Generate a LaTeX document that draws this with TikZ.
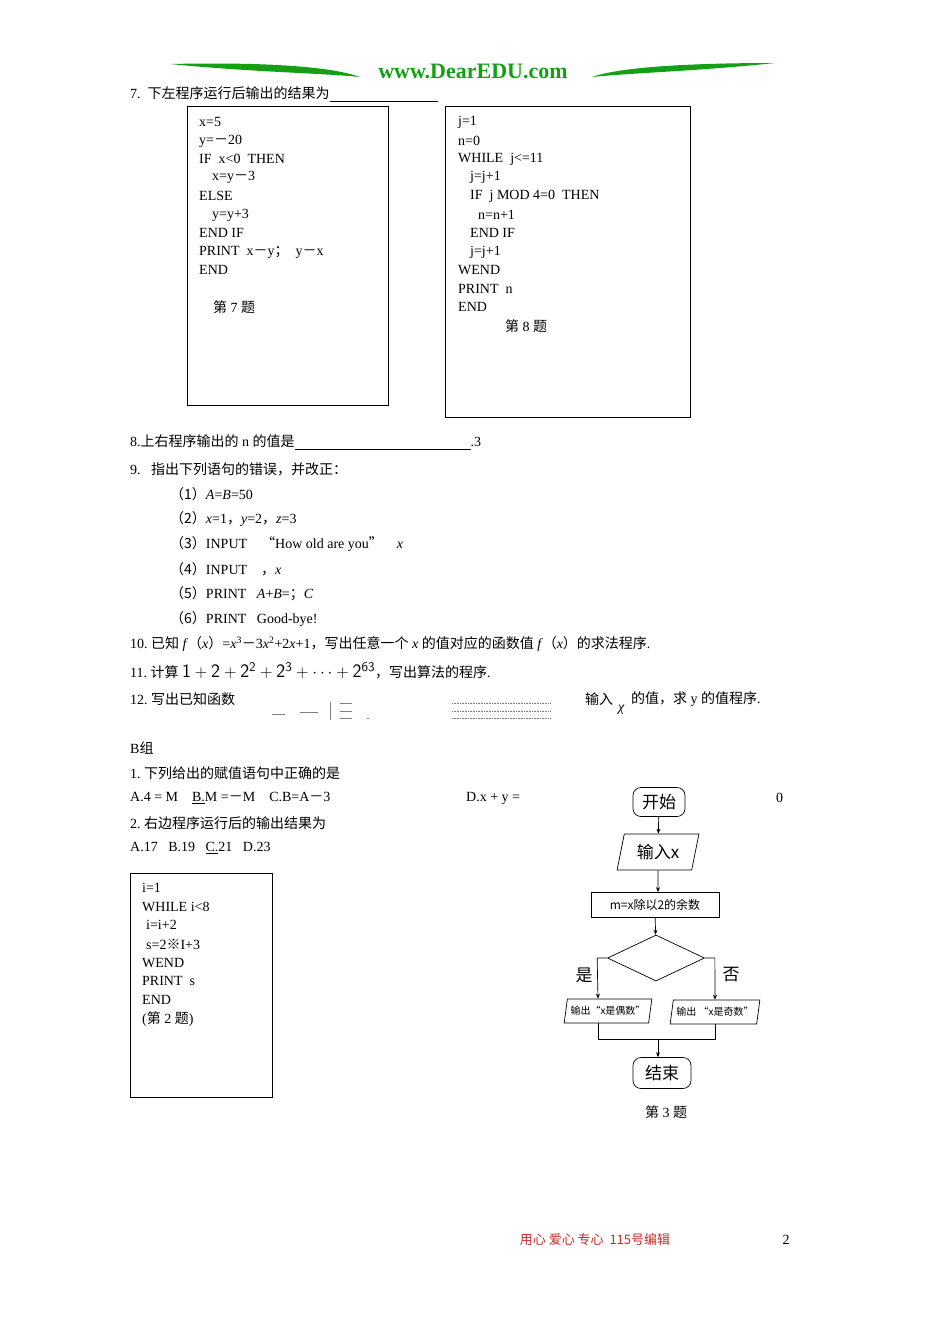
\documentclass[tikz,border=0pt]{standalone}
\usepackage{fontspec}
\setmainfont{Liberation Serif}
\newfontfamily\cjk{Noto Sans CJK SC}
\newcommand{\fm}{{\cjk －}}
\usetikzlibrary{shapes.geometric,arrows.meta}
\definecolor{dgreen}{RGB}{20,160,20}
\definecolor{fred}{RGB}{200,40,40}
\begin{document}
\begin{tikzpicture}[x=1pt,y=-1pt,font=\fontsize{14}{16}\selectfont,
 t/.style={anchor=west,inner sep=0pt},
 c/.style={inner sep=0pt},
 cbox/.style={draw,line width=0.8pt},
 fc/.style={draw,line width=0.7pt,font=\cjk\fontsize{14}{16}\selectfont},
 pg/.style={fc,trapezium,trapezium left angle=75,trapezium right angle=105,trapezium stretches=true,inner sep=1pt},
 ar/.style={-{Stealth[length=5pt,width=4pt]},line width=0.7pt},
 ln/.style={line width=0.7pt}]
\useasboundingbox (0,0) rectangle (950,1344);
% header
\fill[dgreen] (170,64) .. controls (260,62) and (330,66) .. (360,77) .. controls (320,73) and (250,72) .. (170,64) -- cycle;
\fill[dgreen] (775,63) .. controls (690,63) and (620,67) .. (592,77) .. controls (630,73) and (700,71) .. (775,63) -- cycle;
\node[c,text=dgreen,font=\fontsize{22}{24}\selectfont\bfseries] (hdr) at (473,71) {www.DearEDU.com};
% 7
\node[t] (q7) at (130,94) {7.\ \ {\cjk 下左程序运行后输出的结果为}\rule[-2pt]{108pt}{0.4pt}};
\draw[cbox] (187,106) rectangle (388,405);
\node[t] at (199,122) {x=5};
\node[t] at (199,141) {y=\fm20};
\node[t] at (199,159) {IF\ \ x<0\ \ THEN};
\node[t] at (212,177) {x=y\fm3};
\node[t] at (199,196) {ELSE};
\node[t] at (212,215) {y=y+3};
\node[t] at (199,233) {END IF};
\node[t] at (199,252) {PRINT\ \ x\fm y{\cjk ；}\ \ y\fm x};
\node[t] at (199,270) {END};
\node[t] at (213,307) {{\cjk 第} 7 {\cjk 题}};
\draw[cbox] (445,106) rectangle (690,417);
\node[t] at (458,122) {j=1};
\node[t] at (458,141) {n=0};
\node[t] at (458,159) {WHILE\ \ j<=11};
\node[t] at (470,177) {j=j+1};
\node[t] at (470,196) {IF\ \ j MOD 4=0\ \ THEN};
\node[t] at (478,215) {n=n+1};
\node[t] at (470,233) {END IF};
\node[t] at (470,252) {j=j+1};
\node[t] at (458,270) {WEND};
\node[t] at (458,289) {PRINT\ \ n};
\node[t] at (458,307) {END};
\node[t] at (505,326) {{\cjk 第} 8 {\cjk 题}};
% 8,9
\node[t] at (130,442) {8.{\cjk 上右程序输出的} n {\cjk 的值是}\rule[-2pt]{176pt}{0.4pt}.3};
\node[t] at (130,469) {9.\ \ \ {\cjk 指出下列语句的错误，并改正：}};
\node[t] at (170,494) {{\cjk （1）}\textit{A}=\textit{B}=50};
\node[t] at (170,519) {{\cjk （2）}\textit{x}=1{\cjk ，}\textit{y}=2{\cjk ，}\textit{z}=3};
\node[t] at (170,544) {{\cjk （3）}INPUT\ \ \ \ {\cjk “}How old are you{\cjk ”}\ \ \ \ \textit{x}};
\node[t] at (170,569) {{\cjk （4）}INPUT\ \ \ \ {\cjk ，}\textit{x}};
\node[t] at (170,594) {{\cjk （5）}PRINT\ \ \ \textit{A}+\textit{B}={\cjk ；}\textit{C}};
\node[t] at (170,619) {{\cjk （6）}PRINT\ \ \ Good-bye!};
\node[t] at (130,644) {10.\ {\cjk 已知} \textit{f}{\cjk （}\textit{x}{\cjk ）}=\textit{x}\textsuperscript{3}\fm3\textit{x}\textsuperscript{2}+2\textit{x}+1{\cjk ，写出任意一个} \textit{x} {\cjk 的值对应的函数值} \textit{f}{\cjk （}\textit{x}{\cjk ）的求法程序}.};
\node[t] at (130,671) {11.\ {\cjk 计算} {\fontsize{19}{20}\selectfont$\mathsf{1+2+2^2+2^3+\cdots+2^{63}}$}{\cjk ，写出算法的程序}.};
\node[t] at (130,699) {12.\ {\cjk 写出已知函数}};
\draw[gray,line width=0.6pt] (272,714)--(285,714) (300,712)--(318,712) (330,702)--(330,720) (340,703)--(352,703) (340,711)--(352,711) (340,718)--(352,718) (367,718)--(369,718);
\draw[gray,line width=0.6pt,densely dotted] (452,703)--(550,703) (452,711)--(550,711) (452,718)--(550,718);
\node[t] at (585,699) {{\cjk 输入}};
\node[t] at (618,710) {\textit{χ}};
\node[t] at (631,699) {{\cjk 的值，求} y {\cjk 的值程序}.};
% B group
\node[t] at (130,748) {B{\cjk 组}};
\node[t] at (130,773) {1.\ {\cjk 下列给出的赋值语句中正确的是}};
\node[t] at (130,798) {A.4 = M\ \ \ \ \underline{B.}M =\fm M\ \ \ \ C.B=A\fm3};
\node[t] at (466,798) {D.x + y =};
\node[t] at (776,798) {0};
\node[t] at (130,823) {2.\ {\cjk 右边程序运行后的输出结果为}};
\node[t] at (130,848) {A.17\ \ \ B.19\ \ \ \underline{C.}21\ \ \ D.23};
\draw[cbox] (130,873) rectangle (272,1097);
\node[t] at (142,888) {i=1};
\node[t] at (142,907) {WHILE i<8};
\node[t] at (146,925) {i=i+2};
\node[t] at (146,944) {s=2{\cjk ※}I+3};
\node[t] at (142,963) {WEND};
\node[t] at (142,981) {PRINT\ \ s};
\node[t] at (142,1000) {END};
\node[t] at (142,1019) {({\cjk 第} 2 {\cjk 题})};
% flowchart
\node[fc,rounded corners=8pt,minimum width=52pt,minimum height=29pt,font=\cjk\fontsize{17}{18}\selectfont] (st) at (659,802) {开始};
\node[pg,minimum width=82pt,minimum height=36pt,font=\cjk\fontsize{17}{18}\selectfont] (in) at (658,852) {输入x};
\node[fc,minimum width=128pt,minimum height=25pt,inner sep=1pt,font=\cjk\fontsize{12}{14}\selectfont] (pr) at (655,905) {m=x除以2的余数};
\node[fc,diamond,minimum width=97pt,minimum height=46pt,inner sep=0pt,aspect=2.1] (dm) at (656,958) {};
\node[pg,minimum width=88pt,minimum height=24pt,font=\cjk\fontsize{10}{12}\selectfont] (ol) at (608,1011) {输出“x是偶数”};
\node[pg,minimum width=90pt,minimum height=24pt,font=\cjk\fontsize{10}{12}\selectfont] (or) at (715,1012) {输出 “x是奇数”};
\node[fc,rounded corners=8pt,minimum width=58pt,minimum height=31pt,font=\cjk\fontsize{17}{18}\selectfont] (en) at (662,1073) {结束};
\coordinate (mg) at (658,1039);
\draw[ar] (st) -- (in);
\draw[ar] (in) -- (pr.north -| in);
\draw[ar] (pr) -- (dm);
\draw[ar] (dm.west) -- ++(-10,0) -- (ol.north -| 598,0);
\draw[ar] (dm.east) -- ++(10,0) -- (or.north);
\draw[ln] (ol.south -| 598,0) |- (mg) -| (or.south);
\draw[ar] (mg) -- (en.north -| mg);
\node[c,font=\cjk\fontsize{17}{18}\selectfont] (yes) at (584,975) {是};
\node[c,font=\cjk\fontsize{17}{18}\selectfont] (no) at (731,975) {否};
\node[c] (cap3) at (666,1112) {{\cjk 第} 3 {\cjk 题}};
% footer
\node[c,text=fred,font=\cjk\fontsize{13}{14}\selectfont] (ft) at (595,1240) {用心\ 爱心\ 专心\ \ 115号编辑};
\node[c] (pg) at (786,1240) {2};
\end{tikzpicture}
\end{document}
